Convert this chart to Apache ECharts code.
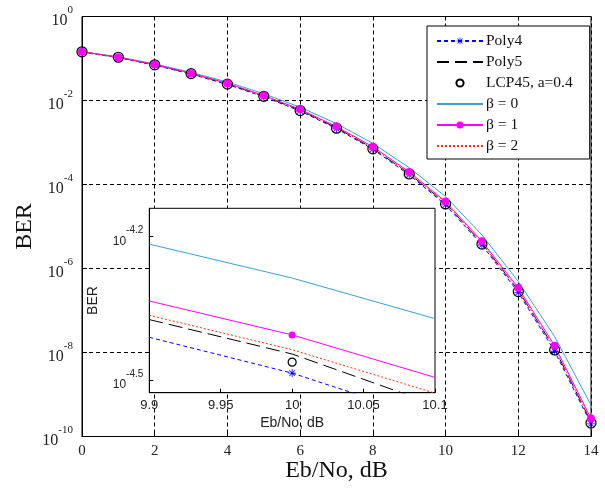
<!DOCTYPE html>
<html>
<head>
<meta charset="utf-8">
<script src="https://cdn.jsdelivr.net/npm/echarts@6/dist/echarts.min.js"></script>
<style>html,body{margin:0;padding:0;background:#fff;}#c{width:605px;height:488px;}</style>
</head>
<body>
<div id="c"></div>
<script>
// ---- data (BER given as log10 exponents) ----
var ebno = [0,1,2,3,4,5,6,7,8,9,10,11,12,13,14];
var poly4Exp = [-0.85,-0.98,-1.16,-1.37,-1.62,-1.91,-2.25,-2.67,-3.16,-3.77,-4.486,-5.44,-6.57,-7.97,-9.70];
var poly5Exp = [-0.84,-0.97,-1.15,-1.36,-1.60,-1.90,-2.23,-2.65,-3.14,-3.74,-4.446,-5.40,-6.52,-7.91,-9.65];
var lcpExp   = [-0.84,-0.97,-1.15,-1.36,-1.61,-1.90,-2.24,-2.66,-3.15,-3.75,-4.463,-5.42,-6.55,-7.94,-9.68];
var beta0Exp = [-0.84,-0.96,-1.13,-1.33,-1.56,-1.84,-2.16,-2.55,-3.02,-3.60,-4.287,-5.20,-6.31,-7.62,-9.25];
var beta1Exp = [-0.84,-0.97,-1.14,-1.35,-1.59,-1.88,-2.21,-2.62,-3.10,-3.70,-4.406,-5.35,-6.46,-7.84,-9.57];
var beta2Exp = [-0.84,-0.97,-1.15,-1.36,-1.60,-1.89,-2.23,-2.64,-3.13,-3.73,-4.437,-5.39,-6.51,-7.90,-9.63];

// inset (zoom around 10 dB), log10 BER
var insetX = [9.9, 10, 10.1];
var insetPoly4 = [-4.411, -4.486, -4.584];
var insetPoly5 = [-4.374, -4.446, -4.552];
var insetLcp = [-4.463];
var insetBeta0 = [-4.216, -4.287, -4.372];
var insetBeta1 = [-4.335, -4.406, -4.495];
var insetBeta2 = [-4.365, -4.437, -4.528];

var names = ['Poly4','Poly5','LCP45, a=0.4','\u03b2 = 0','\u03b2 = 1','\u03b2 = 2'];
var hasMarker = [true, false, true, false, true, false];
var xTicks = [0,2,4,6,8,10,12,14];
var insetXTicks = ['9.9','9.95','10','10.05','10.1'];
var insetYTicks = [-4.5, -4.2];

var star = 'path://M9,0 L11,0 L11,20 L9,20 Z M0,9 L20,9 L20,11 L0,11 Z M2.2,3.6 L3.6,2.2 L17.8,16.4 L16.4,17.8 Z M16.4,2.2 L17.8,3.6 L3.6,17.8 L2.2,16.4 Z';
var SERIF = 'Liberation Serif';
var SANS = 'Liberation Sans';

function toBer(arr){ return arr.map(function(e, i){ return [ebno[i], Math.pow(10, e)]; }); }
function insetPts(arr, markIdx, sym, size){
  return arr.map(function(v, i){
    var it = {value:[insetX[i], v]};
    if (i !== markIdx) { it.symbol = 'none'; } else { it.symbol = sym; it.symbolSize = size; }
    return it;
  });
}

var C = {poly4:'#0000ff', poly5:'#000000', lcp:'#000000', b0:'#3d9fd6', b1:'#ff00ff', b2:'#ff3010'};

var legendData = names.map(function(n, i){
  return hasMarker[i] ? {name:n} : {name:n, itemStyle:{opacity:0}};
});

var option = {
  animation: false,
  backgroundColor: '#fff',
  grid: [
    {left:82, top:16.5, right:14, bottom:51.5, show:true, borderColor:'#000', borderWidth:1, backgroundColor:'transparent', z:0},
    {left:149.3, top:208.3, right:170, bottom:95.3, show:true, borderColor:'#000', borderWidth:1, backgroundColor:'#fff', z:3}
  ],
  legend: {
    orient:'vertical', left:427, top:26,
    padding:[7,17,5,9], itemGap:5, itemWidth:46, itemHeight:9,
    backgroundColor:'#fff', borderColor:'#000', borderWidth:1,
    textStyle:{fontFamily:SERIF, fontSize:15.5, color:'#111', padding:[0,0,0,-2]},
    data:legendData, z:10
  },
  xAxis: [
    {type:'value', gridIndex:0, min:0, max:14, interval:2,
     name:'Eb/No, dB', nameLocation:'middle', nameGap:22, nameMoveOverlap:false,
     nameTextStyle:{fontFamily:SERIF, fontSize:24, color:'#111'},
     axisLine:{lineStyle:{color:'#000'}},
     axisTick:{inside:true, length:5, lineStyle:{color:'#000'}},
     axisLabel:{fontFamily:SERIF, fontSize:15, color:'#222', margin:7},
     splitLine:{show:true, lineStyle:{type:[4,3], color:'#000', width:1}}},
    {type:'value', gridIndex:1, min:9.9, max:10.1, z:4,
     name:'Eb/No, dB', nameLocation:'middle', nameGap:23, nameMoveOverlap:false,
     nameTextStyle:{fontFamily:SANS, fontSize:14, color:'#222'},
     axisLine:{lineStyle:{color:'#000'}},
     axisTick:{inside:true, length:4, customValues:insetXTicks.map(Number), lineStyle:{color:'#000'}},
     axisLabel:{fontFamily:SANS, fontSize:13, color:'#222', margin:6,
       customValues:insetXTicks.map(Number),
       formatter:function(v){ var s = (Math.round(v*100)/100).toString(); return s; }},
     splitLine:{show:false}}
  ],
  yAxis: [
    {type:'log', gridIndex:0, logBase:10, min:1e-10, max:1, interval:2,
     name:'BER', nameLocation:'middle', nameGap:45, nameMoveOverlap:false,
     nameTextStyle:{fontFamily:SERIF, fontSize:24, color:'#111'},
     axisLine:{lineStyle:{color:'#000'}},
     axisTick:{inside:true, length:5, lineStyle:{color:'#000'}},
     minorTick:{show:false},
     axisLabel:{margin:9, formatter:function(v){
        var e = Math.round(Math.log10(v));
        return '{b|10}{s|' + e + '}';
      }, rich:{
        b:{fontFamily:SERIF, fontSize:16, color:'#222', lineHeight:24, verticalAlign:'bottom'},
        s:{fontFamily:SERIF, fontSize:11, color:'#222', lineHeight:7, verticalAlign:'top'}
      }},
     splitLine:{show:true, lineStyle:{type:[4,3], color:'#000', width:1}}},
    {type:'value', gridIndex:1, min:-4.527, max:-4.141, z:4,
     name:'BER', nameLocation:'middle', nameGap:49, nameMoveOverlap:false,
     nameTextStyle:{fontFamily:SANS, fontSize:14, color:'#222'},
     axisLine:{lineStyle:{color:'#000'}},
     axisTick:{inside:true, length:4, customValues:insetYTicks, lineStyle:{color:'#000'}},
     axisLabel:{margin:6, customValues:insetYTicks, formatter:function(v){
        return '{b|10}{s|' + (Math.round(v*10)/10) + '}';
      }, rich:{
        b:{fontFamily:SANS, fontSize:12, color:'#222', lineHeight:22, verticalAlign:'bottom'},
        s:{fontFamily:SANS, fontSize:10, color:'#222', lineHeight:4, verticalAlign:'top'}
      }},
     splitLine:{show:false}}
  ],
  series: [
    {name:names[0], type:'line', xAxisIndex:0, yAxisIndex:0, data:toBer(poly4Exp),
     symbol:star, symbolSize:8, showAllSymbol:true, color:C.poly4,
     itemStyle:{color:C.poly4}, lineStyle:{color:C.poly4, width:1, type:[4,3]}, z:2},
    {name:names[1], type:'line', xAxisIndex:0, yAxisIndex:0, data:toBer(poly5Exp),
     symbol:'none', color:C.poly5, lineStyle:{color:C.poly5, width:1, type:[12,6]}, z:2},
    {name:names[2], type:'line', xAxisIndex:0, yAxisIndex:0, data:toBer(lcpExp),
     symbol:'circle', symbolSize:10, showAllSymbol:true, color:C.lcp,
     itemStyle:{color:'rgba(255,255,255,0)', borderColor:'#000', borderWidth:1.2},
     lineStyle:{width:0, opacity:0}, z:2},
    {name:names[3], type:'line', xAxisIndex:0, yAxisIndex:0, data:toBer(beta0Exp),
     symbol:'none', color:C.b0, lineStyle:{color:C.b0, width:1}, z:2},
    {name:names[4], type:'line', xAxisIndex:0, yAxisIndex:0, data:toBer(beta1Exp),
     symbol:'circle', symbolSize:8, showAllSymbol:true, color:C.b1,
     itemStyle:{color:C.b1}, lineStyle:{color:C.b1, width:1}, z:2},
    {name:names[5], type:'line', xAxisIndex:0, yAxisIndex:0, data:toBer(beta2Exp),
     symbol:'none', color:C.b2, lineStyle:{color:C.b2, width:1, type:[2,2]}, z:2},

    // inset
    {name:names[0], type:'line', xAxisIndex:1, yAxisIndex:1, data:insetPts(insetPoly4, 1, star, 8),
     color:C.poly4, itemStyle:{color:C.poly4}, lineStyle:{color:C.poly4, width:1, type:[4,3]}, z:5, clip:true},
    {name:names[1], type:'line', xAxisIndex:1, yAxisIndex:1, data:insetPts(insetPoly5, -1, 'none', 0),
     symbol:'none', color:C.poly5, lineStyle:{color:C.poly5, width:1, type:[14,6]}, z:5, clip:true},
    {name:names[2], type:'line', xAxisIndex:1, yAxisIndex:1, data:[[10, insetLcp[0]]],
     symbol:'circle', symbolSize:8, color:C.lcp,
     itemStyle:{color:'rgba(255,255,255,0)', borderColor:'#000', borderWidth:1.2},
     lineStyle:{width:0, opacity:0}, z:5},
    {name:names[3], type:'line', xAxisIndex:1, yAxisIndex:1, data:insetPts(insetBeta0, -1, 'none', 0),
     symbol:'none', color:C.b0, lineStyle:{color:C.b0, width:1}, z:5, clip:true},
    {name:names[4], type:'line', xAxisIndex:1, yAxisIndex:1, data:insetPts(insetBeta1, 1, 'circle', 7),
     color:C.b1, itemStyle:{color:C.b1}, lineStyle:{color:C.b1, width:1}, z:5, clip:true},
    {name:names[5], type:'line', xAxisIndex:1, yAxisIndex:1, data:insetPts(insetBeta2, -1, 'none', 0),
     symbol:'none', color:C.b2, lineStyle:{color:C.b2, width:1, type:[2,2]}, z:5, clip:true}
  ]
};
var chart = echarts.init(document.getElementById('c'), null, {renderer:'canvas'});
chart.setOption(option);
</script>
</body>
</html>
